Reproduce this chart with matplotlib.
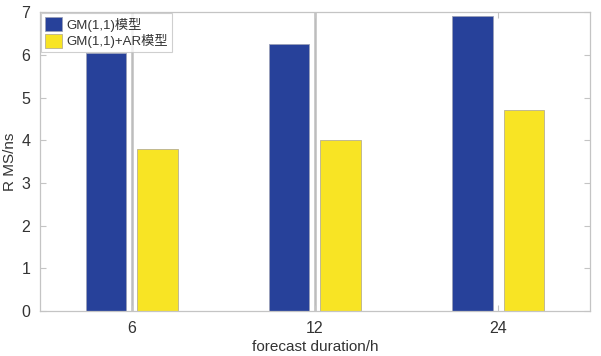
import matplotlib
matplotlib.use("Agg")
import matplotlib.pyplot as plt
import numpy as np

plt.rcParams['font.family'] = ['Liberation Sans', 'Noto Sans CJK SC', 'DejaVu Sans']

categories = ['6', '12', '24']
gm_rms = [6.05, 6.25, 6.9]
gm_ar_rms = [3.8, 4.0, 4.7]
series_labels = ['GM(1,1)模型', 'GM(1,1)+AR模型']

blue = '#27419a'
yellow = '#f8e424'
text_c = '#333333'
frame_c = '#c4c4c4'

fig = plt.figure(figsize=(6.01, 3.56), dpi=100)
ax = fig.add_axes([0.0666, 0.1264, 0.915, 0.8396])

x = np.arange(1, len(categories) + 1)
w = 0.22
off = 0.14
ax.bar(x - off, gm_rms, w, color=blue, edgecolor='#9aa0b8', linewidth=0.6,
       label=series_labels[0], zorder=2)
ax.bar(x + off, gm_ar_rms, w, color=yellow, edgecolor='#b8b090', linewidth=0.6,
       label=series_labels[1], zorder=2)

# faint vertical guide lines at the first two forecast durations
for xv in x[:2]:
    ax.axvline(xv, color='#bdbdbd', linewidth=1.8, zorder=1)

ax.set_xlim(0.5, 3.5)
ax.set_ylim(0, 7)
ax.set_xticks(x)
ax.set_xticklabels(categories)
ax.set_yticks(range(0, 8))

for s in ax.spines.values():
    s.set_color(frame_c)
    s.set_linewidth(0.9)
ax.tick_params(direction='in', length=4, color=frame_c, labelcolor=text_c,
               labelsize=11.5, top=True, right=True)
ax.tick_params(axis='x', pad=7)
ax.tick_params(axis='y', pad=7)

ax.set_xlabel('forecast duration/h', fontsize=11, color=text_c, labelpad=3)
ax.set_ylabel('R MS/ns', fontsize=11, color=text_c, labelpad=3)

leg = ax.legend(loc='upper left', fontsize=9.5, frameon=True, fancybox=False,
                borderpad=0.3, handlelength=1.3, handleheight=1.2,
                handletextpad=0.3, labelspacing=0.2, borderaxespad=0.1)
leg.get_frame().set_edgecolor(frame_c)
leg.get_frame().set_linewidth(0.8)
for t in leg.get_texts():
    t.set_color(text_c)

fig.savefig('out.png', dpi=100)
